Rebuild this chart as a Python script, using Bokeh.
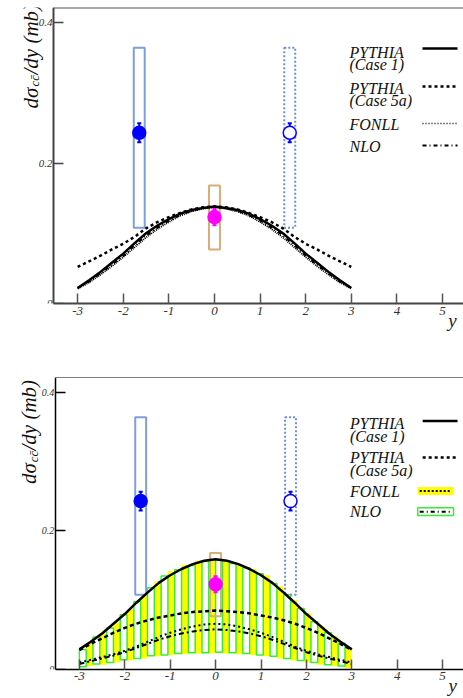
import math
from bokeh.plotting import figure
from bokeh.models import FixedTicker, Range1d, LinearAxis, Label
from bokeh.layouts import column
from bokeh.embed import file_html
from bokeh.resources import INLINE
from bokeh.core.properties import value

# ---------------- data ----------------
x_ticks = [-3, -2, -1, 0, 1, 2, 3, 4, 5]
x_tick_labels = {-3: "-3", -2: "-2", -1: "-1", 0: "0", 1: "1", 2: "2", 3: "3", 4: "4", 5: "5"}
y_ticks = [0, 0.2, 0.4]
y_tick_labels = {0: "0", 0.2: "0.2", 0.4: "0.4"}

# measurements (dsigma/dy): forward (filled), mid-rapidity (magenta), reflected (open)
exp_x = [-1.65, 0.0, 1.65]
exp_y = [0.243, 0.123, 0.243]
exp_err = [0.0135, 0.0115, 0.0135]
sys_lo = [0.108, 0.077, 0.108]
sys_hi = [0.364, 0.168, 0.364]

curve_x = [-3.0, -2.75, -2.5, -2.25, -2.0, -1.75, -1.5, -1.25, -1.0, -0.75, -0.5, -0.25, 0.0,
           0.25, 0.5, 0.75, 1.0, 1.25, 1.5, 1.75, 2.0, 2.25, 2.5, 2.75, 3.0]

# upper panel curves
top_pythia1 = [0.022, 0.033, 0.045, 0.058, 0.071, 0.086, 0.100, 0.111, 0.120, 0.128, 0.133, 0.136, 0.138,
               0.136, 0.133, 0.128, 0.120, 0.111, 0.100, 0.086, 0.071, 0.058, 0.045, 0.033, 0.022]
top_pythia5a = [0.052, 0.060, 0.068, 0.077, 0.085, 0.095, 0.107, 0.116, 0.123, 0.129, 0.134, 0.137, 0.138,
                0.137, 0.134, 0.129, 0.123, 0.116, 0.107, 0.095, 0.085, 0.077, 0.068, 0.060, 0.052]
top_fonll = [0.021, 0.030, 0.041, 0.053, 0.066, 0.080, 0.094, 0.106, 0.116, 0.125, 0.131, 0.135, 0.137,
             0.135, 0.131, 0.125, 0.116, 0.106, 0.094, 0.080, 0.066, 0.053, 0.041, 0.030, 0.021]
top_nlo = [0.022, 0.031, 0.043, 0.055, 0.068, 0.083, 0.097, 0.108, 0.118, 0.126, 0.132, 0.136, 0.138,
           0.136, 0.132, 0.126, 0.118, 0.108, 0.097, 0.083, 0.068, 0.055, 0.043, 0.031, 0.022]

# lower panel curves
bot_pythia1 = [0.029, 0.040, 0.052, 0.066, 0.080, 0.096, 0.111, 0.125, 0.136, 0.145, 0.152, 0.157, 0.159,
               0.157, 0.152, 0.145, 0.136, 0.125, 0.111, 0.096, 0.080, 0.066, 0.052, 0.040, 0.029]
bot_pythia5a = [0.028, 0.037, 0.045, 0.053, 0.060, 0.066, 0.071, 0.075, 0.078, 0.081, 0.083, 0.084, 0.085,
                0.084, 0.083, 0.081, 0.078, 0.075, 0.071, 0.066, 0.060, 0.053, 0.045, 0.037, 0.028]
bot_fonll = [0.010, 0.014, 0.018, 0.022, 0.027, 0.033, 0.040, 0.047, 0.053, 0.058, 0.062, 0.065, 0.066,
             0.065, 0.062, 0.058, 0.053, 0.047, 0.040, 0.033, 0.027, 0.022, 0.018, 0.014, 0.010]
bot_nlo = [0.008, 0.012, 0.016, 0.020, 0.025, 0.031, 0.037, 0.043, 0.048, 0.052, 0.055, 0.057, 0.058,
           0.057, 0.055, 0.052, 0.048, 0.043, 0.037, 0.031, 0.025, 0.020, 0.016, 0.012, 0.008]

# lower panel uncertainty bands (bin centres, low, high)
nlo_band_x = [-2.925, -2.625, -2.325, -2.025, -1.725, -1.425, -1.125, -0.825, -0.525, -0.225,
              0.075, 0.375, 0.675, 0.975, 1.275, 1.575, 1.875, 2.175, 2.475, 2.775]
nlo_band_hi = [0.029, 0.047, 0.060, 0.079, 0.098, 0.118, 0.135, 0.144, 0.150, 0.156,
               0.158, 0.153, 0.147, 0.138, 0.124, 0.108, 0.088, 0.069, 0.053, 0.038]
nlo_band_lo = [0.004, 0.008, 0.010, 0.014, 0.016, 0.020, 0.021, 0.023, 0.024, 0.024,
               0.025, 0.024, 0.023, 0.021, 0.019, 0.016, 0.013, 0.010, 0.007, 0.005]
fonll_band_x = [-2.775, -2.475, -2.175, -1.875, -1.575, -1.275, -0.975, -0.675, -0.375, -0.075,
                0.225, 0.525, 0.825, 1.125, 1.425, 1.725, 2.025, 2.325, 2.625, 2.925]
fonll_band_hi = [0.038, 0.052, 0.068, 0.087, 0.109, 0.127, 0.142, 0.151, 0.157, 0.159,
                 0.158, 0.152, 0.145, 0.136, 0.120, 0.100, 0.081, 0.062, 0.048, 0.031]
fonll_band_lo = [0.005, 0.007, 0.010, 0.013, 0.016, 0.019, 0.021, 0.022, 0.023, 0.023,
                 0.023, 0.022, 0.021, 0.019, 0.016, 0.013, 0.010, 0.007, 0.005, 0.002]

# ---------------- styling / layout ----------------
FONT = value("Liberation Serif")
SERIF = "Liberation Serif"
X0, X1 = -3.53, 5.46      # data range between the y axis (page x 53) and the right edge (463)
W = 463
AXIS_PX = 53
PXU = (W - AXIS_PX) / (X1 - X0)
PX_PER_Y = 702.5
BIN_W = 0.15
BOX_HW = 0.12
CAP = 0.045


def dx(px):
    return X0 + (px - AXIS_PX) / PXU


def make_fig(height, bleft, btop, bbottom, yend, axis_col, axis_w, ytick_size, xl_standoff, yname_standoff,
             top_col, top_w):
    xs = X0 - (AXIS_PX - bleft) / PXU
    p = figure(width=W, height=height, x_range=Range1d(xs, X1), y_range=Range1d(0, yend),
               output_backend="svg", toolbar_location=None,
               min_border_left=bleft, min_border_right=0,
               min_border_top=btop, min_border_bottom=bbottom)
    p.outline_line_color = None
    p.grid.visible = False
    xa = p.xaxis[0]
    xa.ticker = FixedTicker(ticks=x_ticks)
    xa.major_label_overrides = x_tick_labels
    xa.bounds = (X0, X1)
    xa.major_tick_in = 10
    xa.major_tick_out = 0
    xa.minor_tick_line_color = None
    xa.axis_line_color = axis_col
    xa.axis_line_width = axis_w
    xa.major_tick_line_color = "#555555"
    xa.major_tick_line_width = 1.5
    xa.major_label_text_font = SERIF
    xa.major_label_text_font_style = "italic"
    xa.major_label_text_font_size = "13px"
    xa.major_label_text_color = "#333333"
    xa.major_label_standoff = xl_standoff
    # the variable name "y" at the far right under the axis
    yname = LinearAxis(ticker=FixedTicker(ticks=[5.22]), major_label_overrides={5.22: "y"},
                       axis_line_color=None, major_tick_line_color=None, minor_tick_line_color=None,
                       major_label_text_font=SERIF, major_label_text_font_style="italic",
                       major_label_text_font_size="19px", major_label_text_color="#222222",
                       major_label_standoff=yname_standoff)
    p.add_layout(yname, "below")
    # top frame line (axis line only)
    topax = LinearAxis(ticker=FixedTicker(ticks=[]), bounds=(X0, X1), fixed_location=yend,
                       axis_line_color=top_col, axis_line_width=top_w,
                       major_tick_line_color=None, minor_tick_line_color=None,
                       major_label_text_font_size="0px", major_label_standoff=0)
    p.add_layout(topax, "above")
    ya = p.yaxis[0]
    ya.fixed_location = X0
    ya.ticker = FixedTicker(ticks=y_ticks)
    ya.major_label_overrides = y_tick_labels
    ya.major_tick_in = 10
    ya.major_tick_out = 0
    ya.minor_tick_line_color = None
    ya.axis_line_color = axis_col
    ya.axis_line_width = axis_w
    ya.major_tick_line_color = axis_col
    ya.major_tick_line_width = 1.5
    ya.major_label_text_font = SERIF
    ya.major_label_text_font_style = "italic"
    ya.major_label_text_font_size = ytick_size
    ya.major_label_text_color = "#333333"
    ya.major_label_standoff = 1
    return p


def y_title(p, fy, base_px, start_py):
    # rotated title  d sigma_{c cbar} / dy (mb)
    ang = math.pi / 2
    common = dict(angle=ang, text_font=SERIF, text_font_style="italic", text_baseline="alphabetic",
                  text_align="left", text_color="#111111")
    p.add_layout(Label(x=dx(base_px), y=fy(start_py), text="dσ", text_font_size="21px", **common))
    p.add_layout(Label(x=dx(base_px + 4), y=fy(start_py - 22), text="cc̄", text_font_size="13px", **common))
    p.add_layout(Label(x=dx(base_px), y=fy(start_py - 34), text="/dy (mb)", text_font_size="21px", **common))


def draw_measurements(p):
    p.quad(left=[exp_x[0] - BOX_HW], right=[exp_x[0] + BOX_HW], bottom=[sys_lo[0]], top=[sys_hi[0]],
           fill_color=None, line_color="#7f9edc", line_width=2)
    p.quad(left=[exp_x[2] - BOX_HW], right=[exp_x[2] + BOX_HW], bottom=[sys_lo[2]], top=[sys_hi[2]],
           fill_color=None, line_color="#6f8fe0", line_width=2, line_dash="2 2")
    p.quad(left=[exp_x[1] - BOX_HW], right=[exp_x[1] + BOX_HW], bottom=[sys_lo[1]], top=[sys_hi[1]],
           fill_color=None, line_color="#d9ac7a", line_width=2)


def draw_points(p):
    cols = ["#0000ff", "#ff00ff", "#0000ff"]
    fills = ["#0000ff", "#ff00ff", "white"]
    lo = [y - e for y, e in zip(exp_y, exp_err)]
    hi = [y + e for y, e in zip(exp_y, exp_err)]
    p.segment(x0=exp_x, y0=lo, x1=exp_x, y1=hi, line_color=cols, line_width=2)
    p.segment(x0=[x - CAP for x in exp_x], y0=lo, x1=[x + CAP for x in exp_x], y1=lo, line_color=cols, line_width=2)
    p.segment(x0=[x - CAP for x in exp_x], y0=hi, x1=[x + CAP for x in exp_x], y1=hi, line_color=cols, line_width=2)
    p.scatter(exp_x, exp_y, marker="circle", size=13, fill_color=fills, line_color=cols, line_width=1.5)


def legend_text(p, fy, items):
    p.text(x=[dx(349)] * len(items), y=[fy(py) for _, py in items], text=[t for t, _ in items],
           text_font=FONT, text_font_style="italic", text_font_size="16px",
           text_baseline="middle", text_align="left", text_color="#111111")


# ================= upper panel =================
H1 = 370
TOP1, BOT1 = 7, 303            # page y of frame top / bottom
Y_END1 = (BOT1 - TOP1) / PX_PER_Y


def fy1(py):
    return (BOT1 - py) / PX_PER_Y


p1 = make_fig(H1, 16, TOP1, H1 - BOT1, Y_END1, "#444444", 2, "11px", 3, -14, "#555555", 2)
draw_measurements(p1)
p1.line(curve_x, top_fonll, line_color="black", line_width=1.8, line_dash="1 1")
p1.line(curve_x, top_nlo, line_color="black", line_width=2, line_dash="4 3 1 3")
p1.line(curve_x, top_pythia5a, line_color="black", line_width=2.5, line_dash="3 3")
p1.line(curve_x, top_pythia1, line_color="black", line_width=2.5)
draw_points(p1)

legend_text(p1, fy1, [("PYTHIA", 52), ("(Case 1)", 64), ("PYTHIA", 88), ("(Case 5a)", 100),
                      ("FONLL", 124), ("NLO", 146)])
p1.line([dx(422), dx(457)], [fy1(48)] * 2, line_color="black", line_width=2.5)
p1.line([dx(422), dx(457)], [fy1(86)] * 2, line_color="black", line_width=2.5, line_dash="3 3")
p1.line([dx(422), dx(457)], [fy1(123)] * 2, line_color="black", line_width=1.5, line_dash="1 2")
p1.line([dx(422), dx(457)], [fy1(145)] * 2, line_color="black", line_width=2, line_dash="4 3 1 3")

y_title(p1, fy1, 30, 108)

# ================= lower panel =================
H2 = 698 - H1
TOP2, BOT2 = 377, 673
Y_END2 = (BOT2 - TOP2) / PX_PER_Y


def fy2(py):
    return (BOT2 - py) / PX_PER_Y


p2 = make_fig(H2, 14, TOP2 - H1, H1 + H2 - BOT2, Y_END2, "black", 1.5, "10px", 2, -14, "black", 1.2)

p2.quad(left=[x - BIN_W / 2 for x in fonll_band_x], right=[x + BIN_W / 2 for x in fonll_band_x],
        bottom=fonll_band_lo, top=fonll_band_hi, fill_color="#ffff00", line_color=None)
p2.quad(left=[x - BIN_W / 2 for x in nlo_band_x], right=[x + BIN_W / 2 for x in nlo_band_x],
        bottom=nlo_band_lo, top=nlo_band_hi, fill_color=None, line_color="#33ee33", line_width=1.5)
draw_measurements(p2)
p2.line(curve_x, bot_fonll, line_color="black", line_width=2, line_dash="2 3")
p2.line(curve_x, bot_nlo, line_color="black", line_width=2, line_dash="5 3 2 3")
p2.line(curve_x, bot_pythia5a, line_color="black", line_width=2.5, line_dash="4 3")
p2.line(curve_x, bot_pythia1, line_color="black", line_width=2.5)
draw_points(p2)

legend_text(p2, fy2, [("PYTHIA", 424), ("(Case 1)", 437), ("PYTHIA", 458), ("(Case 5a)", 471),
                      ("FONLL", 493), ("NLO", 513)])
p2.line([dx(422), dx(457)], [fy2(421)] * 2, line_color="black", line_width=2.5)
p2.line([dx(422), dx(457)], [fy2(458)] * 2, line_color="black", line_width=2.5, line_dash="3 3")
p2.quad(left=[dx(417)], right=[dx(453)], bottom=[fy2(496)], top=[fy2(488)], fill_color="#ffff00", line_color=None)
p2.line([dx(419), dx(451)], [fy2(492)] * 2, line_color="black", line_width=2, line_dash="2 2")
p2.quad(left=[dx(417)], right=[dx(453)], bottom=[fy2(517)], top=[fy2(509)], fill_color="white",
        line_color="#33ee33", line_width=1.5)
p2.line([dx(419), dx(451)], [fy2(513)] * 2, line_color="black", line_width=2, line_dash="4 3 1 3")

y_title(p2, fy2, 27, 485)

layout = column(p1, p2, spacing=0)
open("out.html", "w").write(file_html(layout, INLINE))
